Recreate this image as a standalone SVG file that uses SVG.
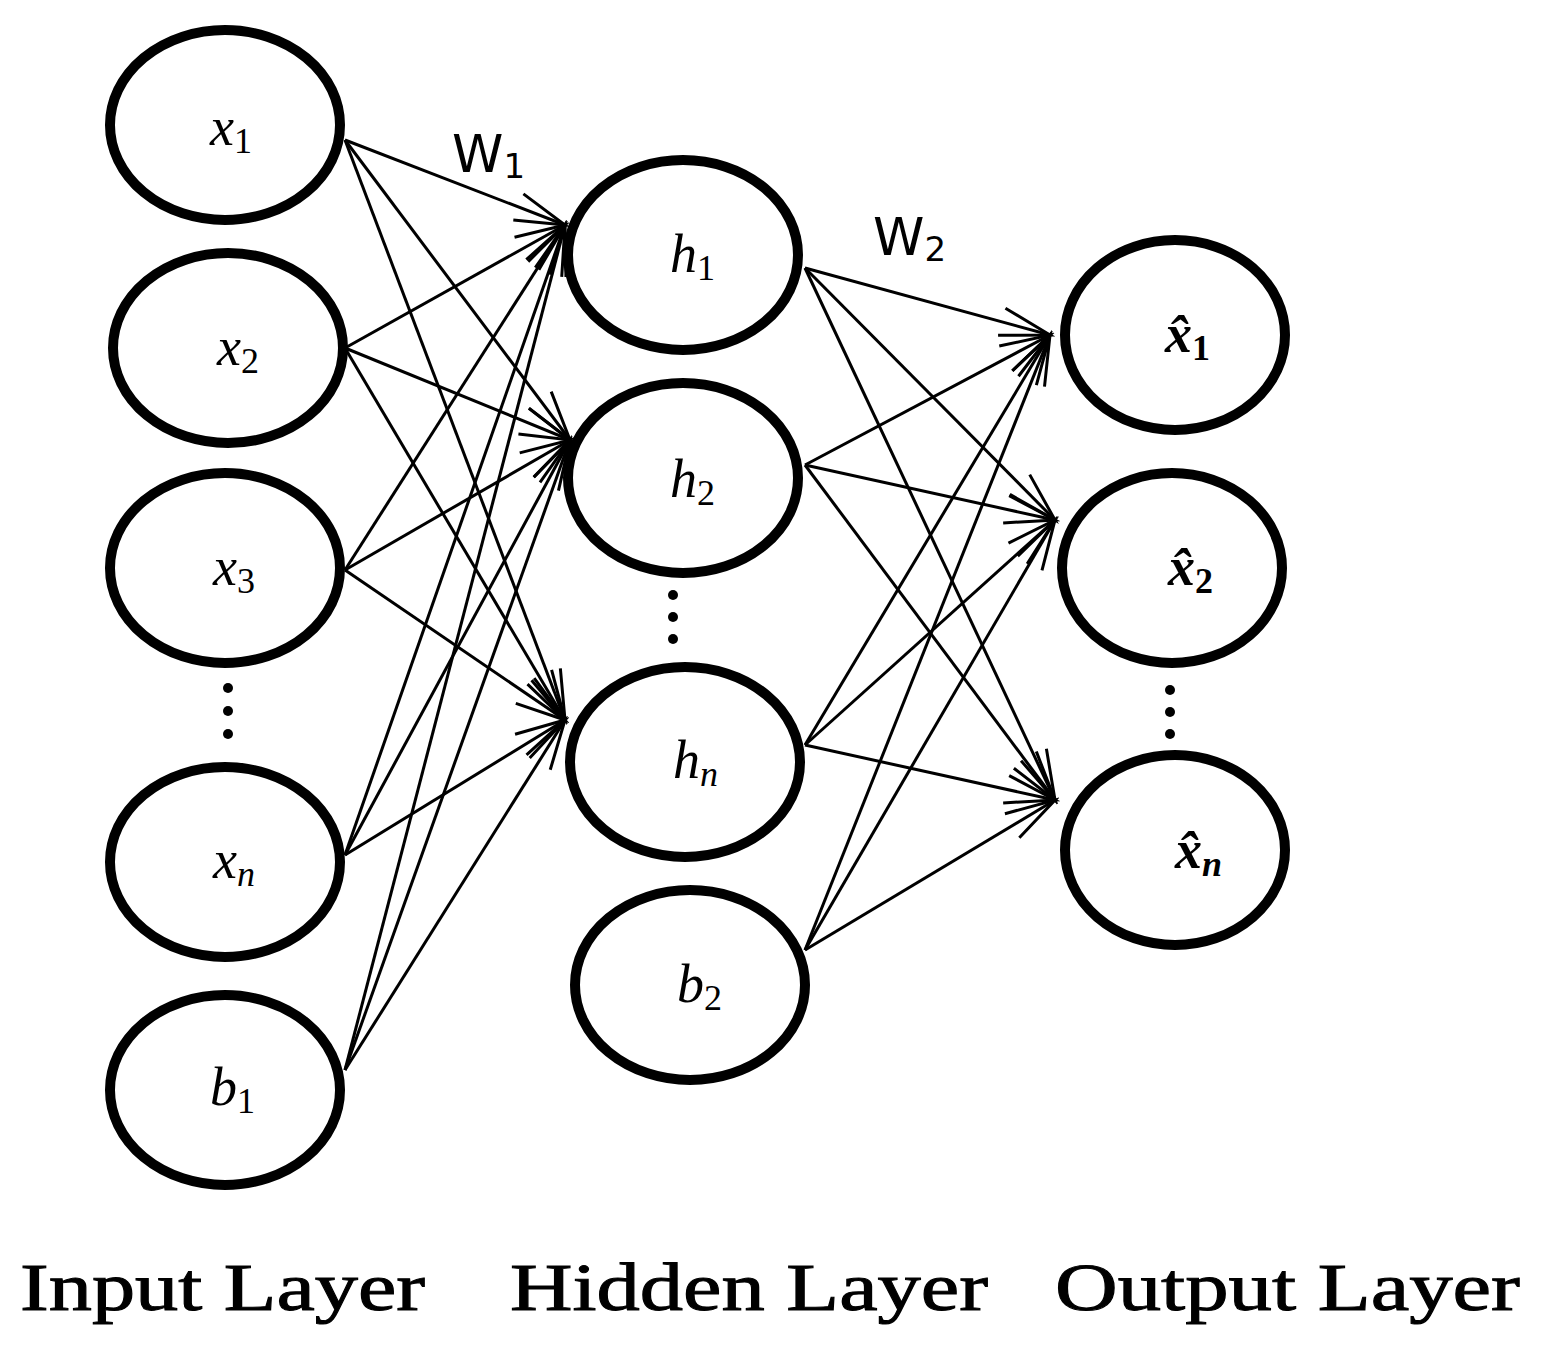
<svg xmlns="http://www.w3.org/2000/svg" width="1550" height="1357" viewBox="0 0 1550 1357">
<style>
.n{fill:none;stroke:#000;stroke-width:10}
.e{stroke:#000;stroke-width:3;fill:none;marker-end:url(#a)}
.t{font-family:"Liberation Serif",serif;font-style:italic;font-size:54px}
.l{font-family:"Liberation Serif",serif;font-size:68px;stroke:#000;stroke-width:1}
.w{font-family:"DejaVu Sans",sans-serif;font-size:52px}
</style>
<defs><marker id="a" markerUnits="userSpaceOnUse" markerWidth="60" markerHeight="40" viewBox="-55 -20 60 40" refX="0" refY="0" orient="auto"><path d="M-50,-14 L0,0 L-50,14" fill="none" stroke="#000" stroke-width="3"/></marker></defs>
<rect width="1550" height="1357" fill="#fff"/>
<g id="connectors">
<path class="e" d="M345,140 L565,225"/><path class="e" d="M345,140 L570,440"/><path class="e" d="M345,140 L565,720"/>
<path class="e" d="M345,348 L565,225"/><path class="e" d="M345,348 L570,440"/><path class="e" d="M345,348 L565,720"/>
<path class="e" d="M345,570 L565,225"/><path class="e" d="M345,570 L570,440"/><path class="e" d="M345,570 L565,720"/>
<path class="e" d="M345,855 L565,225"/><path class="e" d="M345,855 L570,440"/><path class="e" d="M345,855 L565,720"/>
<path class="e" d="M345,1070 L565,225"/><path class="e" d="M345,1070 L570,440"/><path class="e" d="M345,1070 L565,720"/>
<path class="e" d="M805,268 L1050,335"/><path class="e" d="M805,268 L1055,520"/><path class="e" d="M805,268 L1055,800"/>
<path class="e" d="M805,465 L1050,335"/><path class="e" d="M805,465 L1055,520"/><path class="e" d="M805,465 L1055,800"/>
<path class="e" d="M805,745 L1050,335"/><path class="e" d="M805,745 L1055,520"/><path class="e" d="M805,745 L1055,800"/>
<path class="e" d="M805,950 L1050,335"/><path class="e" d="M805,950 L1055,520"/><path class="e" d="M805,950 L1055,800"/>
</g>
<g id="x1"><ellipse class="n" cx="225" cy="125" rx="115" ry="95"/><text class="t" x="210" y="145">x<tspan font-size="36" dy="8" font-style="normal">1</tspan></text></g>
<g id="x2"><ellipse class="n" cx="228" cy="348" rx="115" ry="95"/><text class="t" x="217" y="365">x<tspan font-size="36" dy="8" font-style="normal">2</tspan></text></g>
<g id="x3"><ellipse class="n" cx="225" cy="568" rx="115" ry="95"/><text class="t" x="213" y="585">x<tspan font-size="36" dy="8" font-style="normal">3</tspan></text></g>
<g id="xn"><ellipse class="n" cx="225" cy="862" rx="115" ry="95"/><text class="t" x="213" y="878">x<tspan font-size="36" dy="8">n</tspan></text></g>
<g id="b1"><ellipse class="n" cx="225" cy="1090" rx="115" ry="95"/><text class="t" x="210" y="1105">b<tspan font-size="36" dy="8" font-style="normal">1</tspan></text></g>
<g id="h1"><ellipse class="n" cx="683" cy="255" rx="115" ry="95"/><text class="t" x="670" y="272">h<tspan font-size="36" dy="8" font-style="normal">1</tspan></text></g>
<g id="h2"><ellipse class="n" cx="683" cy="478" rx="115" ry="95"/><text class="t" x="670" y="497">h<tspan font-size="36" dy="8" font-style="normal">2</tspan></text></g>
<g id="hn"><ellipse class="n" cx="685" cy="762" rx="115" ry="95"/><text class="t" x="673" y="778">h<tspan font-size="36" dy="8">n</tspan></text></g>
<g id="b2"><ellipse class="n" cx="690" cy="985" rx="115" ry="95"/><text class="t" x="677" y="1002">b<tspan font-size="36" dy="8" font-style="normal">2</tspan></text></g>
<g id="o1"><ellipse class="n" cx="1175" cy="335" rx="110" ry="95"/><text class="t" x="1165" y="352" font-weight="bold">x̂<tspan font-size="36" dy="8" font-style="normal">1</tspan></text></g>
<g id="o2"><ellipse class="n" cx="1172" cy="568" rx="110" ry="95"/><text class="t" x="1168" y="585" font-weight="bold">x̂<tspan font-size="36" dy="8" font-style="normal">2</tspan></text></g>
<g id="on"><ellipse class="n" cx="1175" cy="850" rx="110" ry="95"/><text class="t" x="1175" y="868" font-weight="bold">x̂<tspan font-size="36" dy="8">n</tspan></text></g>
<g id="dots" fill="#000">
<circle cx="228" cy="688" r="5"/><circle cx="228" cy="711" r="5"/><circle cx="228" cy="734" r="5"/>
<circle cx="673" cy="595" r="5"/><circle cx="673" cy="617" r="5"/><circle cx="673" cy="639" r="5"/>
<circle cx="1170" cy="690" r="5"/><circle cx="1170" cy="712" r="5"/><circle cx="1170" cy="734" r="5"/>
</g>
<text class="w" x="452" y="172">W<tspan font-size="34" dy="6">1</tspan></text>
<text class="w" x="873" y="255">W<tspan font-size="34" dy="6">2</tspan></text>
<text class="l" x="20" y="1310" textLength="405" lengthAdjust="spacingAndGlyphs">Input Layer</text>
<text class="l" x="510" y="1310" textLength="478" lengthAdjust="spacingAndGlyphs">Hidden Layer</text>
<text class="l" x="1055" y="1310" textLength="465" lengthAdjust="spacingAndGlyphs">Output Layer</text>
</svg>
